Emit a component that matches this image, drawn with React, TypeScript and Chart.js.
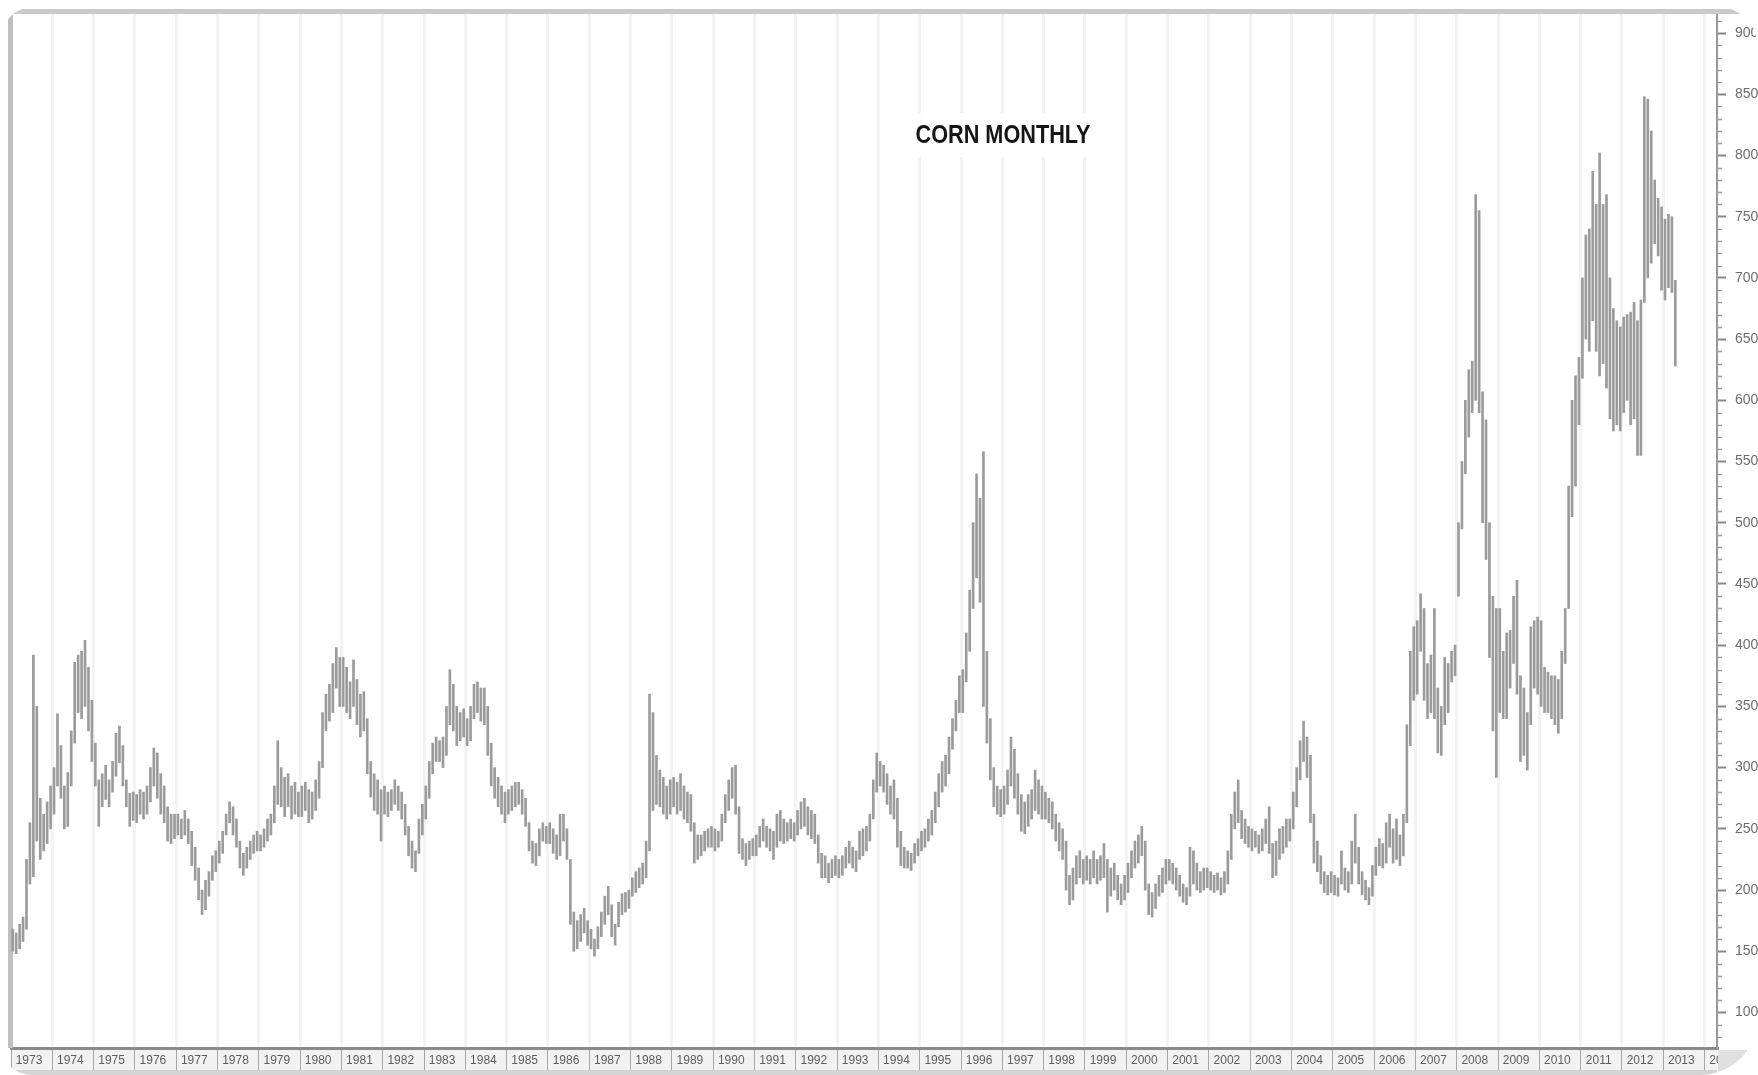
import React, { useEffect, useRef } from 'react';
import { Chart, registerables } from 'chart.js';

Chart.register(...registerables);

const W = 1758;
const H = 1075;

const TITLE = 'CORN MONTHLY';
const FIRST_YEAR = 1973;
const X_MIN = 1973;
const X_MAX = 2014.3;
const Y_MIN = 71;
const Y_MAX = 918;

const YEAR_TICKS = [1973, 1974, 1975, 1976, 1977, 1978, 1979, 1980, 1981, 1982, 1983, 1984, 1985, 1986, 1987, 1988, 1989, 1990, 1991, 1992, 1993, 1994, 1995, 1996, 1997, 1998, 1999, 2000, 2001, 2002, 2003, 2004, 2005, 2006, 2007, 2008, 2009, 2010, 2011, 2012, 2013, 2014];
const PRICE_TICKS = [100, 150, 200, 250, 300, 350, 400, 450, 500, 550, 600, 650, 700, 750, 800, 850, 900];

// monthly [low, high] ranges, cents per bushel
const y1973 = [[150,168],[148,165],[152,172],[158,178],[168,225],[205,255],[211,392],[240,350],[225,275],[232,262],[238,272],[250,285]];
const y1974 = [[262,300],[285,344],[275,318],[250,285],[252,296],[285,330],[320,386],[345,392],[340,395],[350,404],[330,382],[305,355]];
const y1975 = [[285,320],[252,290],[268,295],[274,302],[268,290],[280,305],[293,328],[304,334],[285,318],[268,290],[252,279],[257,280]];
const y1976 = [[255,278],[262,282],[258,280],[262,285],[272,300],[285,316],[275,312],[262,295],[255,285],[240,268],[238,262],[242,262]];
const y1977 = [[245,262],[242,258],[245,265],[238,258],[220,248],[208,235],[192,218],[180,200],[184,208],[195,215],[208,228],[215,232]];
const y1978 = [[222,240],[230,248],[245,262],[255,272],[245,268],[235,258],[218,240],[212,230],[218,235],[225,240],[230,245],[232,248]];
const y1979 = [[232,245],[235,250],[240,258],[245,262],[255,285],[270,322],[268,300],[260,292],[268,295],[258,285],[262,288],[260,280]];
const y1980 = [[260,285],[265,288],[255,282],[258,280],[265,290],[275,305],[300,345],[330,360],[338,368],[345,385],[365,398],[350,390]];
const y1981 = [[350,390],[345,382],[340,370],[350,388],[335,372],[325,360],[330,362],[295,340],[276,305],[265,295],[262,290],[240,282]];
const y1982 = [[262,285],[260,280],[265,282],[270,290],[265,285],[258,280],[245,270],[228,252],[218,240],[215,232],[230,258],[245,270]];
const y1983 = [[258,285],[275,305],[295,320],[305,325],[305,322],[300,325],[310,350],[335,380],[330,368],[318,350],[322,345],[325,348]];
const y1984 = [[318,340],[322,350],[340,368],[345,370],[338,365],[335,365],[310,350],[285,320],[275,300],[268,292],[262,285],[255,280]];
const y1985 = [[262,282],[265,285],[268,288],[270,288],[262,282],[252,275],[232,255],[222,240],[220,238],[228,250],[240,255],[238,252]];
const y1986 = [[238,255],[230,250],[225,245],[228,262],[240,262],[225,250],[172,225],[150,182],[152,175],[158,180],[165,185],[155,175]];
const y1987 = [[152,168],[146,160],[152,170],[162,182],[172,195],[180,203],[162,188],[155,172],[170,190],[180,197],[182,198],[185,200]];
const y1988 = [[195,210],[198,215],[202,218],[205,222],[210,240],[232,360],[265,345],[270,310],[268,298],[262,292],[258,285],[262,290]];
const y1989 = [[268,292],[262,288],[265,295],[258,285],[255,280],[248,278],[222,255],[225,245],[228,245],[232,248],[235,250],[235,252]];
const y1990 = [[232,250],[235,248],[240,262],[255,278],[265,290],[275,300],[262,302],[230,268],[225,242],[220,238],[225,240],[228,242]];
const y1991 = [[228,245],[235,252],[240,258],[235,252],[232,250],[225,248],[235,262],[240,265],[238,258],[240,255],[242,258],[240,255]];
const y1992 = [[245,265],[250,272],[252,275],[245,268],[242,265],[238,262],[222,245],[210,230],[210,228],[206,222],[210,225],[212,228]];
const y1993 = [[210,225],[212,228],[218,235],[222,240],[218,235],[215,232],[225,248],[228,250],[232,252],[240,262],[258,290],[280,312]];
const y1994 = [[285,305],[280,302],[270,295],[262,285],[258,290],[235,275],[220,248],[218,235],[218,232],[216,230],[222,238],[228,242]];
const y1995 = [[232,248],[235,250],[240,258],[245,265],[255,280],[268,295],[280,305],[285,310],[295,325],[315,340],[330,355],[345,375]];
const y1996 = [[345,380],[370,410],[395,445],[430,500],[455,540],[435,520],[350,558],[320,395],[290,340],[268,300],[262,285],[260,282]];
const y1997 = [[262,285],[270,298],[285,325],[275,315],[262,295],[248,278],[246,272],[252,278],[258,282],[265,298],[262,290],[258,285]];
const y1998 = [[258,280],[255,275],[250,272],[240,262],[232,255],[225,250],[200,240],[188,212],[192,218],[205,228],[210,232],[205,225]];
const y1999 = [[208,228],[205,225],[210,232],[205,225],[208,228],[210,238],[182,225],[195,218],[200,222],[192,212],[188,205],[192,212]];
const y2000 = [[198,222],[210,232],[218,240],[222,245],[228,252],[200,240],[180,205],[178,198],[185,205],[195,212],[198,218],[205,225]];
const y2001 = [[208,225],[205,222],[200,218],[195,212],[190,205],[188,202],[195,235],[205,232],[200,222],[198,215],[200,218],[202,218]];
const y2002 = [[200,215],[198,212],[200,214],[196,210],[198,215],[205,232],[225,262],[250,280],[255,290],[242,265],[238,258],[235,252]];
const y2003 = [[232,250],[235,248],[230,245],[232,250],[238,258],[230,268],[210,238],[212,240],[225,250],[230,252],[235,258],[240,258]];
const y2004 = [[250,280],[268,300],[290,322],[305,338],[292,325],[255,310],[222,262],[215,240],[205,228],[198,215],[196,212],[198,215]];
const y2005 = [[196,212],[195,210],[205,232],[200,218],[198,215],[205,240],[222,262],[205,235],[196,215],[192,208],[188,202],[195,220]];
const y2006 = [[212,235],[220,242],[218,238],[222,255],[235,262],[222,250],[225,258],[220,245],[228,262],[255,335],[318,395],[355,415]];
const y2007 = [[360,420],[395,442],[355,430],[340,385],[345,392],[340,430],[312,365],[310,350],[335,390],[345,385],[370,395],[375,400]];
const y2008 = [[440,500],[495,550],[540,600],[570,625],[590,632],[600,768],[590,755],[500,607],[470,584],[390,500],[330,440],[292,430]];
const y2009 = [[345,430],[340,395],[340,410],[365,412],[385,440],[360,453],[305,375],[310,365],[298,345],[335,415],[365,420],[360,423]];
const y2010 = [[350,420],[345,382],[345,378],[340,375],[335,375],[328,372],[340,395],[385,430],[430,530],[505,600],[530,620],[580,635]];
const y2011 = [[618,700],[650,735],[640,740],[665,787],[640,760],[620,802],[630,760],[610,768],[585,700],[575,675],[580,665],[575,660]];
const y2012 = [[590,668],[600,670],[580,672],[585,680],[555,665],[555,682],[680,848],[700,846],[712,820],[728,780],[718,765],[690,758]];
const y2013 = [[682,748],[692,752],[688,750],[628,698]];

const MONTHLY = [y1973, y1974, y1975, y1976, y1977, y1978, y1979, y1980, y1981, y1982, y1983, y1984, y1985, y1986, y1987, y1988, y1989, y1990, y1991, y1992, y1993, y1994, y1995, y1996, y1997, y1998, y1999, y2000, y2001, y2002, y2003, y2004, y2005, y2006, y2007, y2008, y2009, y2010, y2011, y2012, y2013];

const FONT = '"Liberation Sans", Arial, sans-serif';

export default function App() {
  const ref = useRef<HTMLCanvasElement>(null);

  useEffect(() => {
    const canvas = ref.current;
    if (!canvas) return;
    const bars: { x: number; y: number[] }[] = [];
    MONTHLY.forEach((months, i) => {
      months.forEach((r, m) => {
        bars.push({ x: FIRST_YEAR + i + (m + 0.5) / 12, y: r });
      });
    });

    const framePlugin = {
      id: 'frame',
      beforeDraw(chart: any) {
        const { ctx, chartArea: a } = chart;
        ctx.save();
        ctx.fillStyle = '#ffffff';
        ctx.fillRect(0, 0, chart.width, chart.height);
        ctx.fillStyle = '#f2f2f2';
        ctx.fillRect(a.left, a.bottom, a.right - a.left, chart.height - a.bottom);
        ctx.fillStyle = '#d4d4d4';
        ctx.fillRect(0, a.bottom + 22, a.right, chart.height - a.bottom - 22);
        ctx.restore();
      },
      beforeDatasetsDraw(chart: any) {
        const { ctx, chartArea: a } = chart;
        ctx.save();
        ctx.fillStyle = '#cacaca';
        ctx.fillRect(0, 9, chart.width, 5);
        ctx.fillStyle = '#c0c0c0';
        ctx.fillRect(8, 9, 5, a.bottom - 9);
        ctx.restore();
      },
      afterDraw(chart: any) {
        const { ctx, chartArea: a } = chart;
        const ys = chart.scales.y;
        ctx.save();
        ctx.strokeStyle = '#9c9c9c';
        ctx.lineWidth = 1.5;
        for (let v = 80; v <= 910; v += 10) {
          if (v % 50 === 0) continue;
          const py = Math.round(ys.getPixelForValue(v)) + 0.5;
          ctx.beginPath();
          ctx.moveTo(a.right, py);
          ctx.lineTo(a.right + 5, py);
          ctx.stroke();
        }
        ctx.fillStyle = '#e0e0e0';
        ctx.fillRect(a.right + 1, a.bottom + 2, chart.width - a.right, chart.height - a.bottom);
        // title
        const cx = 1003;
        const cy = 136;
        ctx.fillStyle = '#ffffff';
        ctx.fillRect(910, 113, 188, 44);
        ctx.font = 'bold 26px "Liberation Sans Narrow", ' + FONT;
        const w = ctx.measureText(TITLE).width;
        const sx = 175 / w;
        ctx.translate(cx, cy);
        ctx.scale(sx, 1);
        ctx.fillStyle = '#151515';
        ctx.textAlign = 'center';
        ctx.textBaseline = 'middle';
        ctx.fillText(TITLE, 0, 0);
        ctx.restore();
      },
    };

    const chart = new Chart(canvas, {
      type: 'bar',
      data: {
        datasets: [
          {
            data: bars as any,
            backgroundColor: '#9b9b9b',
            borderWidth: 0,
            barThickness: 2,
          },
        ],
      },
      options: {
        responsive: false,
        animation: false,
        devicePixelRatio: 1,
        layout: { padding: { left: 11, top: 11, right: 0, bottom: 0 } },
        plugins: {
          legend: { display: false },
          tooltip: { enabled: false },
          title: { display: false },
        },
        scales: {
          x: {
            type: 'linear',
            min: X_MIN,
            max: X_MAX,
            offset: false,
            afterBuildTicks: (s: any) => {
              s.ticks = YEAR_TICKS.map((v) => ({ value: v }));
            },
            afterFit: (s: any) => {
              s.height = H - 1048;
              s.paddingLeft = 0;
              s.paddingRight = 0;
            },
            grid: {
              offset: false,
              color: '#f3f3f3',
              lineWidth: 3,
              drawOnChartArea: true,
              drawTicks: true,
              tickLength: 22,
              tickColor: '#a6a6a6',
              tickWidth: 1,
            },
            border: { display: true, color: '#8a8a8a', width: 3 },
            ticks: {
              autoSkip: false,
              maxRotation: 0,
              minRotation: 0,
              labelOffset: 18,
              padding: -17,
              color: '#5e5e5e',
              font: { size: 12, family: FONT },
              callback: (v: any) => String(v),
            },
          },
          y: {
            type: 'linear',
            position: 'right',
            min: Y_MIN,
            max: Y_MAX,
            afterBuildTicks: (s: any) => {
              s.ticks = PRICE_TICKS.map((v) => ({ value: v }));
            },
            afterFit: (s: any) => {
              s.width = W - 1717;
              s.paddingTop = 0;
              s.paddingBottom = 0;
            },
            grid: {
              drawOnChartArea: false,
              drawTicks: true,
              tickLength: 9,
              tickColor: '#888888',
              tickWidth: 2,
            },
            border: { display: true, color: '#9a9a9a', width: 2 },
            ticks: {
              padding: 9,
              color: '#6e6e6e',
              font: { size: 14, family: FONT },
              callback: (v: any) => String(v),
            },
          },
        },
      } as any,
      plugins: [framePlugin],
    });

    return () => chart.destroy();
  }, []);

  return (
    <div
      style={{
        position: 'fixed',
        left: 0,
        top: 0,
        width: W,
        height: H,
        overflow: 'hidden',
        background: '#ffffff',
      }}
    >
      <canvas ref={ref} width={W} height={H} style={{ display: 'block', width: W, height: H }} />
      <div
        style={{
          position: 'absolute',
          left: 0,
          top: 7,
          width: W,
          height: H - 7,
          borderRadius: '34px 40px 58px 32px',
          boxShadow: '0 0 0 80px #ffffff',
          pointerEvents: 'none',
        }}
      />
    </div>
  );
}
